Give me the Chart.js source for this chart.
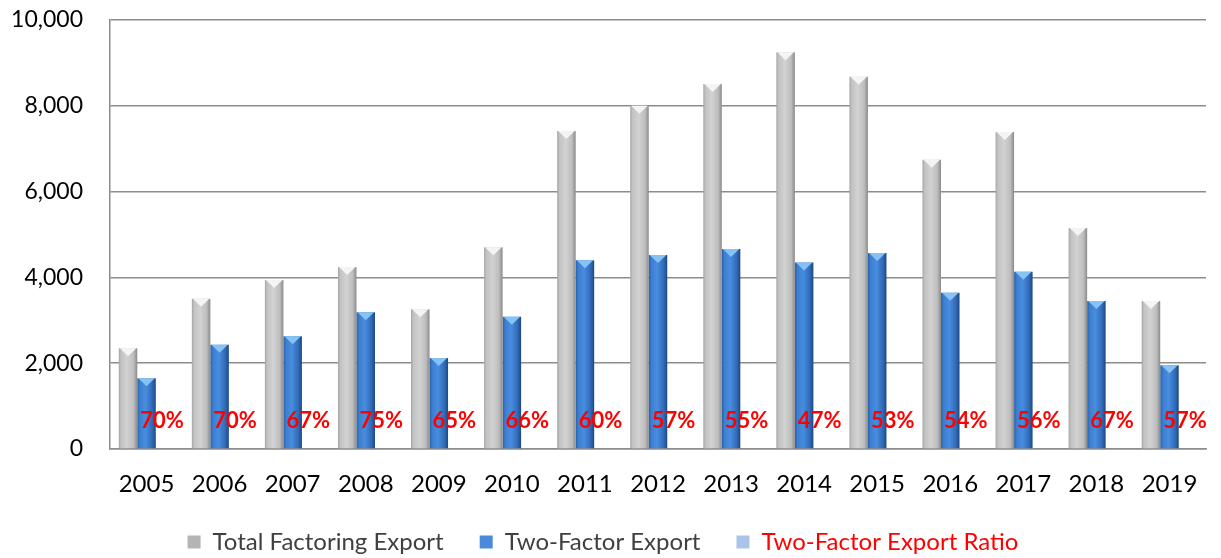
<!DOCTYPE html>
<html>
<head>
<meta charset="utf-8">
<script src="https://cdn.jsdelivr.net/npm/chart.js@4"></script>
<style>
html,body{margin:0;padding:0;background:#fff;}
#wrap{width:1221px;height:558px;position:relative;}
</style>
</head>
<body>
<div id="wrap"><canvas id="c"></canvas></div>
<script>
const categories = ['2005','2006','2007','2008','2009','2010','2011','2012','2013','2014','2015','2016','2017','2018','2019'];
const totalExport = [2350,3500,3940,4240,3260,4700,7410,8000,8510,9250,8680,6740,7390,5150,3450];
const twoFactorExport = [1650,2430,2630,3190,2120,3080,4400,4520,4660,4350,4570,3640,4130,3450,1950];
const ratioPct = [70,70,67,75,65,66,60,57,55,47,53,54,56,67,57];
const seriesNames = ['Total Factoring Export','Two-Factor Export','Two-Factor Export Ratio'];
const yMax = 10000, yStep = 2000;

const FONT = 'Lato, "Open Sans", sans-serif';

const barStyle = {
  id: 'barStyle',
  beforeDatasetsDraw(chart) {
    const ctx = chart.ctx;
    [0,1].forEach(di => {
      const meta = chart.getDatasetMeta(di);
      meta.data.forEach(el => {
        const x0 = el.x - el.width/2, x1 = el.x + el.width/2;
        const g = ctx.createLinearGradient(x0, 0, x1, 0);
        if (di === 0) {
          g.addColorStop(0, '#a4a4a4');
          g.addColorStop(0.12, '#c2c2c2');
          g.addColorStop(0.45, '#d2d2d2');
          g.addColorStop(0.8, '#bdbdbd');
          g.addColorStop(1, '#8a8a8a');
        } else {
          g.addColorStop(0, '#2a60a6');
          g.addColorStop(0.15, '#3c7fd2');
          g.addColorStop(0.45, '#488ddf');
          g.addColorStop(0.8, '#316bb8');
          g.addColorStop(1, '#1d4880');
        }
        el.options = Object.assign({}, el.options, {backgroundColor: g});
      });
    });
  },
  afterDatasetsDraw(chart) {
    const ctx = chart.ctx;
    ctx.save();
    [0,1].forEach(di => {
      const meta = chart.getDatasetMeta(di);
      meta.data.forEach(el => {
        const x0 = el.x - el.width/2, x1 = el.x + el.width/2;
        ctx.beginPath();
        ctx.moveTo(x0 + 1, el.y);
        ctx.lineTo(x1 - 1, el.y);
        ctx.lineTo(el.x, el.y + 8);
        ctx.closePath();
        ctx.fillStyle = di === 0 ? '#f4f4f4' : '#86c3f4';
        ctx.fill();
      });
    });
    const meta = chart.getDatasetMeta(2);
    const base = chart.scales.y.getPixelForValue(0);
    ctx.font = 'bold 22px ' + FONT;
    ctx.fillStyle = '#ff0000';
    ctx.textAlign = 'center';
    ctx.textBaseline = 'middle';
    meta.data.forEach((el, i) => {
      ctx.fillText(ratioPct[i] + '%', el.x - 3, base - 28);
    });
    ctx.restore();
  }
};

const legendColors = ['#b4b4b4', '#4a8ad8', '#a9c4e8'];
const legendText = ['#404040', '#404040', '#ff0000'];

new Chart(document.getElementById('c'), {
  type: 'bar',
  data: {
    labels: categories,
    datasets: [
      {label: seriesNames[0], data: totalExport, backgroundColor: () => '#c0c0c0'},
      {label: seriesNames[1], data: twoFactorExport, backgroundColor: () => '#3f82d4'},
      {label: seriesNames[2], data: ratioPct, backgroundColor: 'rgba(0,0,0,0)'}
    ]
  },
  options: {
    responsive: true,
    maintainAspectRatio: false,
    animation: false,
    devicePixelRatio: 1,
    layout: {padding: {left: 0, right: 15, top: 20, bottom: -6}},
    datasets: {bar: {categoryPercentage: 0.76, barPercentage: 1.0}},
    plugins: {
      tooltip: {enabled: false},
      legend: {
        position: 'bottom',
        labels: {
          boxWidth: 13, boxHeight: 13, padding: 36,
          font: {family: FONT, size: 24},
          color: '#404040',
          generateLabels(chart) {
            return seriesNames.map((n, i) => ({
              text: n, fillStyle: legendColors[i], strokeStyle: legendColors[i],
              lineWidth: 0, fontColor: legendText[i], datasetIndex: i, hidden: false
            }));
          }
        }
      }
    },
    scales: {
      x: {
        grid: {display: false, drawTicks: false},
        border: {display: true, color: '#8c8c8c', width: 1.5},
        ticks: {font: {family: FONT, size: 24}, color: '#000', padding: 21},
        afterFit(s) { s.height = 45; }
      },
      y: {
        min: 0, max: yMax,
        grid: {color: '#8c8c8c', lineWidth: 1.5, drawTicks: false},
        border: {display: true, color: '#8c8c8c', width: 1.5},
        ticks: {
          stepSize: yStep, font: {family: FONT, size: 23}, color: '#000', padding: 27,
          callback: v => v.toLocaleString('en-US')
        },
        afterFit(s) { s.width = 110; s.paddingTop = 0; s.paddingBottom = 0; }
      }
    }
  },
  plugins: [barStyle]
});
</script>
</body>
</html>
